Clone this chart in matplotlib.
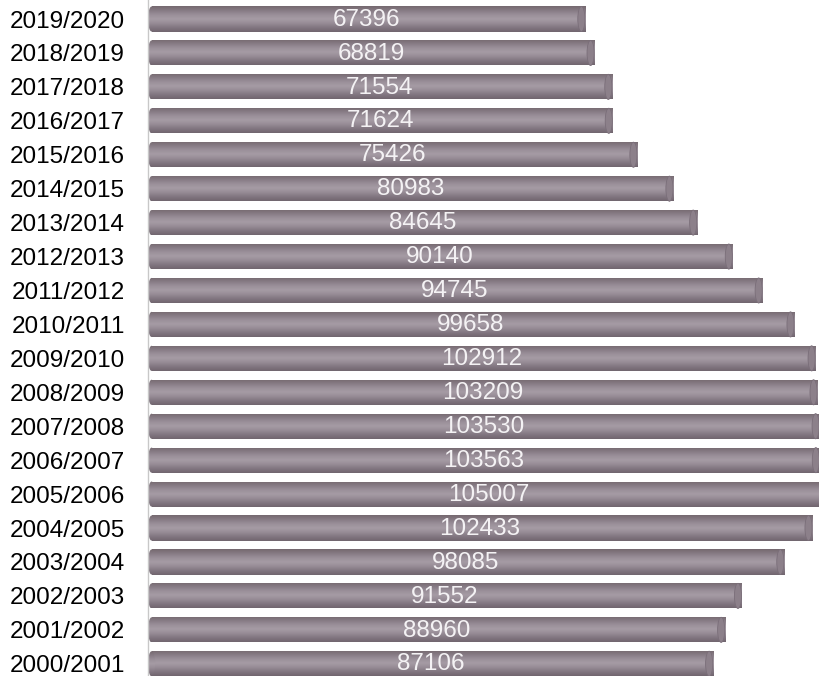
import numpy as np
import matplotlib.pyplot as plt
from matplotlib.patches import Ellipse, Rectangle
from matplotlib.colors import LinearSegmentedColormap

# Academic years (bottom to top) and student counts
years = ["2000/2001", "2001/2002", "2002/2003", "2003/2004", "2004/2005",
         "2005/2006", "2006/2007", "2007/2008", "2008/2009", "2009/2010",
         "2010/2011", "2011/2012", "2012/2013", "2013/2014", "2014/2015",
         "2015/2016", "2016/2017", "2017/2018", "2018/2019", "2019/2020"]
students = [87106, 88960, 91552, 98085, 102433,
            105007, 103563, 103530, 103209, 102912,
            99658, 94745, 90140, 84645, 80983,
            75426, 71624, 71554, 68819, 67396]

fig = plt.figure(figsize=(8.19, 6.76), dpi=100)
ax = fig.add_axes([148 / 819, 0, 1 - 148 / 819, 1])

pos = np.arange(len(years))
h = 0.74
bars = ax.barh(pos, students, height=h, color="none", edgecolor="none")

ax.set_xlim(0, 103500)
ax.set_ylim(-0.36, 19.56)

# cylinder shading, top to bottom
cyl = LinearSegmentedColormap.from_list(
    "cyl", ["#75696f", "#877b85", "#9a8f99", "#a69ca5", "#978c96", "#827681", "#71666f"])
grad = np.linspace(0, 1, 64).reshape(-1, 1)
cap_w = 1100

for b, v in zip(bars, students):
    y0 = b.get_y()
    yc = y0 + h / 2
    body = Rectangle((cap_w / 2, y0), v - cap_w / 2, h, transform=ax.transData)
    left = Ellipse((cap_w / 2, yc), cap_w, h, transform=ax.transData)
    for clip in (body, left):
        im = ax.imshow(grad, cmap=cyl, aspect="auto", origin="upper",
                       extent=[0, v, y0, y0 + h], interpolation="bicubic", zorder=2)
        im.set_clip_path(clip)
    ax.add_patch(Ellipse((v - cap_w / 2, yc), cap_w, h, facecolor="#8c808a",
                         edgecolor="#7a6e79", linewidth=0.6, zorder=3))
    ax.text(v / 2, yc - 0.02, str(v), ha="center", va="center",
            fontsize=17.5, color="#f4f2f4", family="Liberation Sans", zorder=4)

ax.set_yticks(pos)
ax.set_yticklabels(years, fontsize=17.5, family="Liberation Sans")
ax.tick_params(axis="y", length=0, pad=16.5)
ax.set_xticks([])
for s in ["top", "right", "bottom"]:
    ax.spines[s].set_visible(False)
ax.spines["left"].set_color("#c8c8c8")
ax.spines["left"].set_linewidth(1)

plt.savefig("out.png", dpi=100)
